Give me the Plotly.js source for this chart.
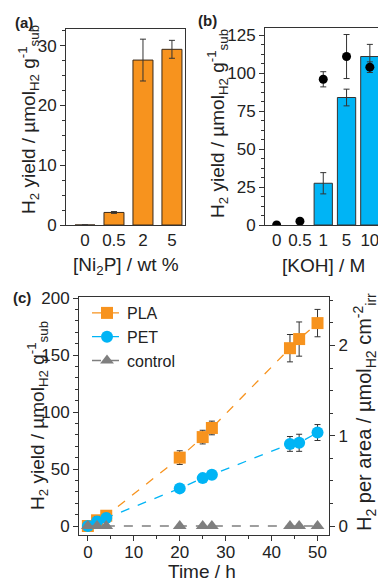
<!DOCTYPE html>
<html><head><meta charset="utf-8">
<script src="https://cdn.plot.ly/plotly-3.0.1.min.js"></script>
<style>html,body{margin:0;padding:0;background:#fff}#chart{width:378px;height:584px}</style>
</head><body><div id="chart"></div>
<script>
// Panel (a)
const ni2pLoad = ['0', '0.5', '2', '5'];
const ni2pYield = [0, 2.1, 27.6, 29.4];
const ni2pErr = [0, 0.15, 3.5, 1.5];
// Panel (b)
const kohConc = ['0', '0.5', '1', '5', '10'];
const kohBarYield = [null, null, 27.5, 84, 111];
const kohBarErr = [0, 0, 7, 5.5, 8];
const kohDotYield = [0, 2.5, 96, 111, 104];
const kohDotErr = [0, 0, 5, 14.5, 3.5];
// Panel (c)
const timeH = [0, 2, 4, 20, 25, 27, 44, 46, 50];
const plaYield = [0, 5, 9, 60, 78, 86, 156, 164, 178];
const plaErr = [0, 4, 4, 6, 6, 6, 12, 15, 12];
const petYield = [0, 4, 7, 33, 42, 45, 72, 73, 82];
const petErr = [0, 4, 4, 2, 2, 3, 6.5, 7.5, 7];
const ctrlYield = [0, 0, 0, 0, 0, 0, 0, 0, 0];
const ctrlErr = [0, 0, 0, 0, 0, 0, 0, 0, 0];
const perAreaRatio = 79.2; // µmol g^-1 per µmol cm^-2

const W = 378, H = 584;
const px = v => v / W;
const py = v => 1 - v / H;
const ORANGE = '#F7931E', BLUE = '#00B4F5', GREY = '#7F7F7F', INK = '#222';
const FONT = 'Liberation Sans, Arial, sans-serif';

const errBar = (arr) => ({type: 'data', array: arr, visible: true, color: '#333', thickness: 1, width: 3});

const traces = [
  {type: 'bar', x: ni2pLoad, y: ni2pYield, xaxis: 'x', yaxis: 'y', width: 0.69,
   marker: {color: ORANGE, line: {color: '#3a2a1a', width: 1}}, error_y: errBar(ni2pErr), showlegend: false},
  {type: 'bar', x: kohConc, y: kohBarYield, xaxis: 'x2', yaxis: 'y2', width: 0.785,
   marker: {color: BLUE, line: {color: '#333', width: 1}}, error_y: errBar(kohBarErr), showlegend: false},
  {type: 'scatter', mode: 'markers', x: kohConc, y: kohDotYield, xaxis: 'x2', yaxis: 'y2',
   marker: {color: '#000', size: 9}, error_y: errBar(kohDotErr), showlegend: false},
  {type: 'scatter', mode: 'markers', x: timeH, y: plaYield.map(v => v / perAreaRatio), xaxis: 'x3', yaxis: 'y4',
   marker: {opacity: 0, size: 1}, showlegend: false, hoverinfo: 'skip'},
  {type: 'scatter', mode: 'lines+markers', name: 'PLA', x: timeH, y: plaYield, xaxis: 'x3', yaxis: 'y3',
   line: {color: ORANGE, dash: 'dash', width: 1.3}, marker: {symbol: 'square', size: 12, color: ORANGE},
   error_y: errBar(plaErr)},
  {type: 'scatter', mode: 'lines+markers', name: 'PET', x: timeH, y: petYield, xaxis: 'x3', yaxis: 'y3',
   line: {color: BLUE, dash: 'dash', width: 1.3}, marker: {symbol: 'circle', size: 12, color: BLUE},
   error_y: errBar(petErr)},
  {type: 'scatter', mode: 'lines+markers', name: 'control', x: timeH, y: ctrlYield, xaxis: 'x3', yaxis: 'y3',
   line: {color: GREY, dash: 'dash', width: 1.3}, marker: {symbol: 'triangle-up', size: 12, color: GREY},
   error_y: errBar(ctrlErr)}
];

const tickFont = {family: FONT, size: 17, color: INK};
const axBase = {showgrid: false, zeroline: false, showline: true, linecolor: '#333', linewidth: 1,
  ticks: 'outside', ticklen: 5, tickcolor: '#333', tickwidth: 1, tickfont: tickFont, automargin: false, fixedrange: true};

const yLeft = [-7.9, 200.9];
const layout = {
  width: W, height: H, margin: {l: 0, r: 0, t: 0, b: 0}, paper_bgcolor: '#fff', plot_bgcolor: 'rgba(0,0,0,0)',
  font: {family: FONT, color: INK}, bargap: 0,
  xaxis: Object.assign({}, axBase, {domain: [px(66), px(185)], anchor: 'y', type: 'category', range: [-0.655, 3.45], mirror: true, ticks: ''}),
  yaxis: Object.assign({}, axBase, {domain: [py(225), py(29)], anchor: 'x', range: [0, 32.8], dtick: 10, mirror: true,
    minor: {dtick: 2.5, ticks: 'outside', ticklen: 3, tickcolor: '#333'}}),
  xaxis2: Object.assign({}, axBase, {domain: [px(265), 1], anchor: 'y2', type: 'category', range: [-0.5, 4.35], mirror: true, ticks: ''}),
  yaxis2: Object.assign({}, axBase, {domain: [py(225), py(28)], anchor: 'x2', range: [0, 129.8], dtick: 25,
    minor: {dtick: 6.25, ticks: 'outside', ticklen: 3, tickcolor: '#333'}}),
  xaxis3: Object.assign({}, axBase, {domain: [px(79), px(329)], anchor: 'y3', range: [-1.93, 52.5], dtick: 10, mirror: true,
    ticklabelstandoff: -3, minor: {dtick: 5, ticks: 'outside', ticklen: 3, tickcolor: '#333'}}),
  yaxis3: Object.assign({}, axBase, {domain: [py(535), py(297)], anchor: 'x3', range: yLeft, dtick: 50,
    minor: {dtick: 10, ticks: 'outside', ticklen: 3, tickcolor: '#333'}}),
  yaxis4: Object.assign({}, axBase, {overlaying: 'y3', side: 'right', anchor: 'x3', range: [yLeft[0] / perAreaRatio, yLeft[1] / perAreaRatio], dtick: 1,
    minor: {dtick: 0.25, ticks: 'outside', ticklen: 3, tickcolor: '#333'}}),
  legend: {x: px(87), y: py(296), xanchor: 'left', yanchor: 'top', bgcolor: 'rgba(0,0,0,0)',
    font: {family: FONT, size: 16, color: INK}, tracegroupgap: 0},
  annotations: []
};

const ttl = {family: FONT, size: 19, color: INK};
const ann = (x, y, text, extra) => Object.assign({xref: 'paper', yref: 'paper', x: px(x), y: py(y), text: text,
  showarrow: false, xanchor: 'center', yanchor: 'middle', font: ttl}, extra || {});
const yTitle = 'H<sub>2</sub> yield / µmol<sub>H2</sub> g<sup>-1</sup><sub>sub</sub>';
layout.annotations.push(
  ann(24, 22, '<b>(a)</b>', {font: {family: FONT, size: 15, color: INK}}),
  ann(207, 21, '<b>(b)</b>', {font: {family: FONT, size: 15, color: INK}}),
  ann(22, 297, '<b>(c)</b>', {font: {family: FONT, size: 15, color: INK}}),
  ann(29, 120, yTitle, {textangle: -90}),
  ann(126, 266, '[Ni<sub>2</sub>P] / wt %'),
  ann(218, 124, yTitle, {textangle: -90}),
  ann(323, 266, '[KOH] / M'),
  ann(37, 416, yTitle, {textangle: -90}),
  ann(364, 412, 'H<sub>2</sub> per area / µmol<sub>H2</sub> cm<sup>-2</sup><sub>irr</sub>', {textangle: -90, font: {family: FONT, size: 20, color: INK}}),
  ann(202, 571, 'Time / h')
);

Plotly.newPlot('chart', traces, layout, {displayModeBar: false, staticPlot: true});
</script>
</body></html>
